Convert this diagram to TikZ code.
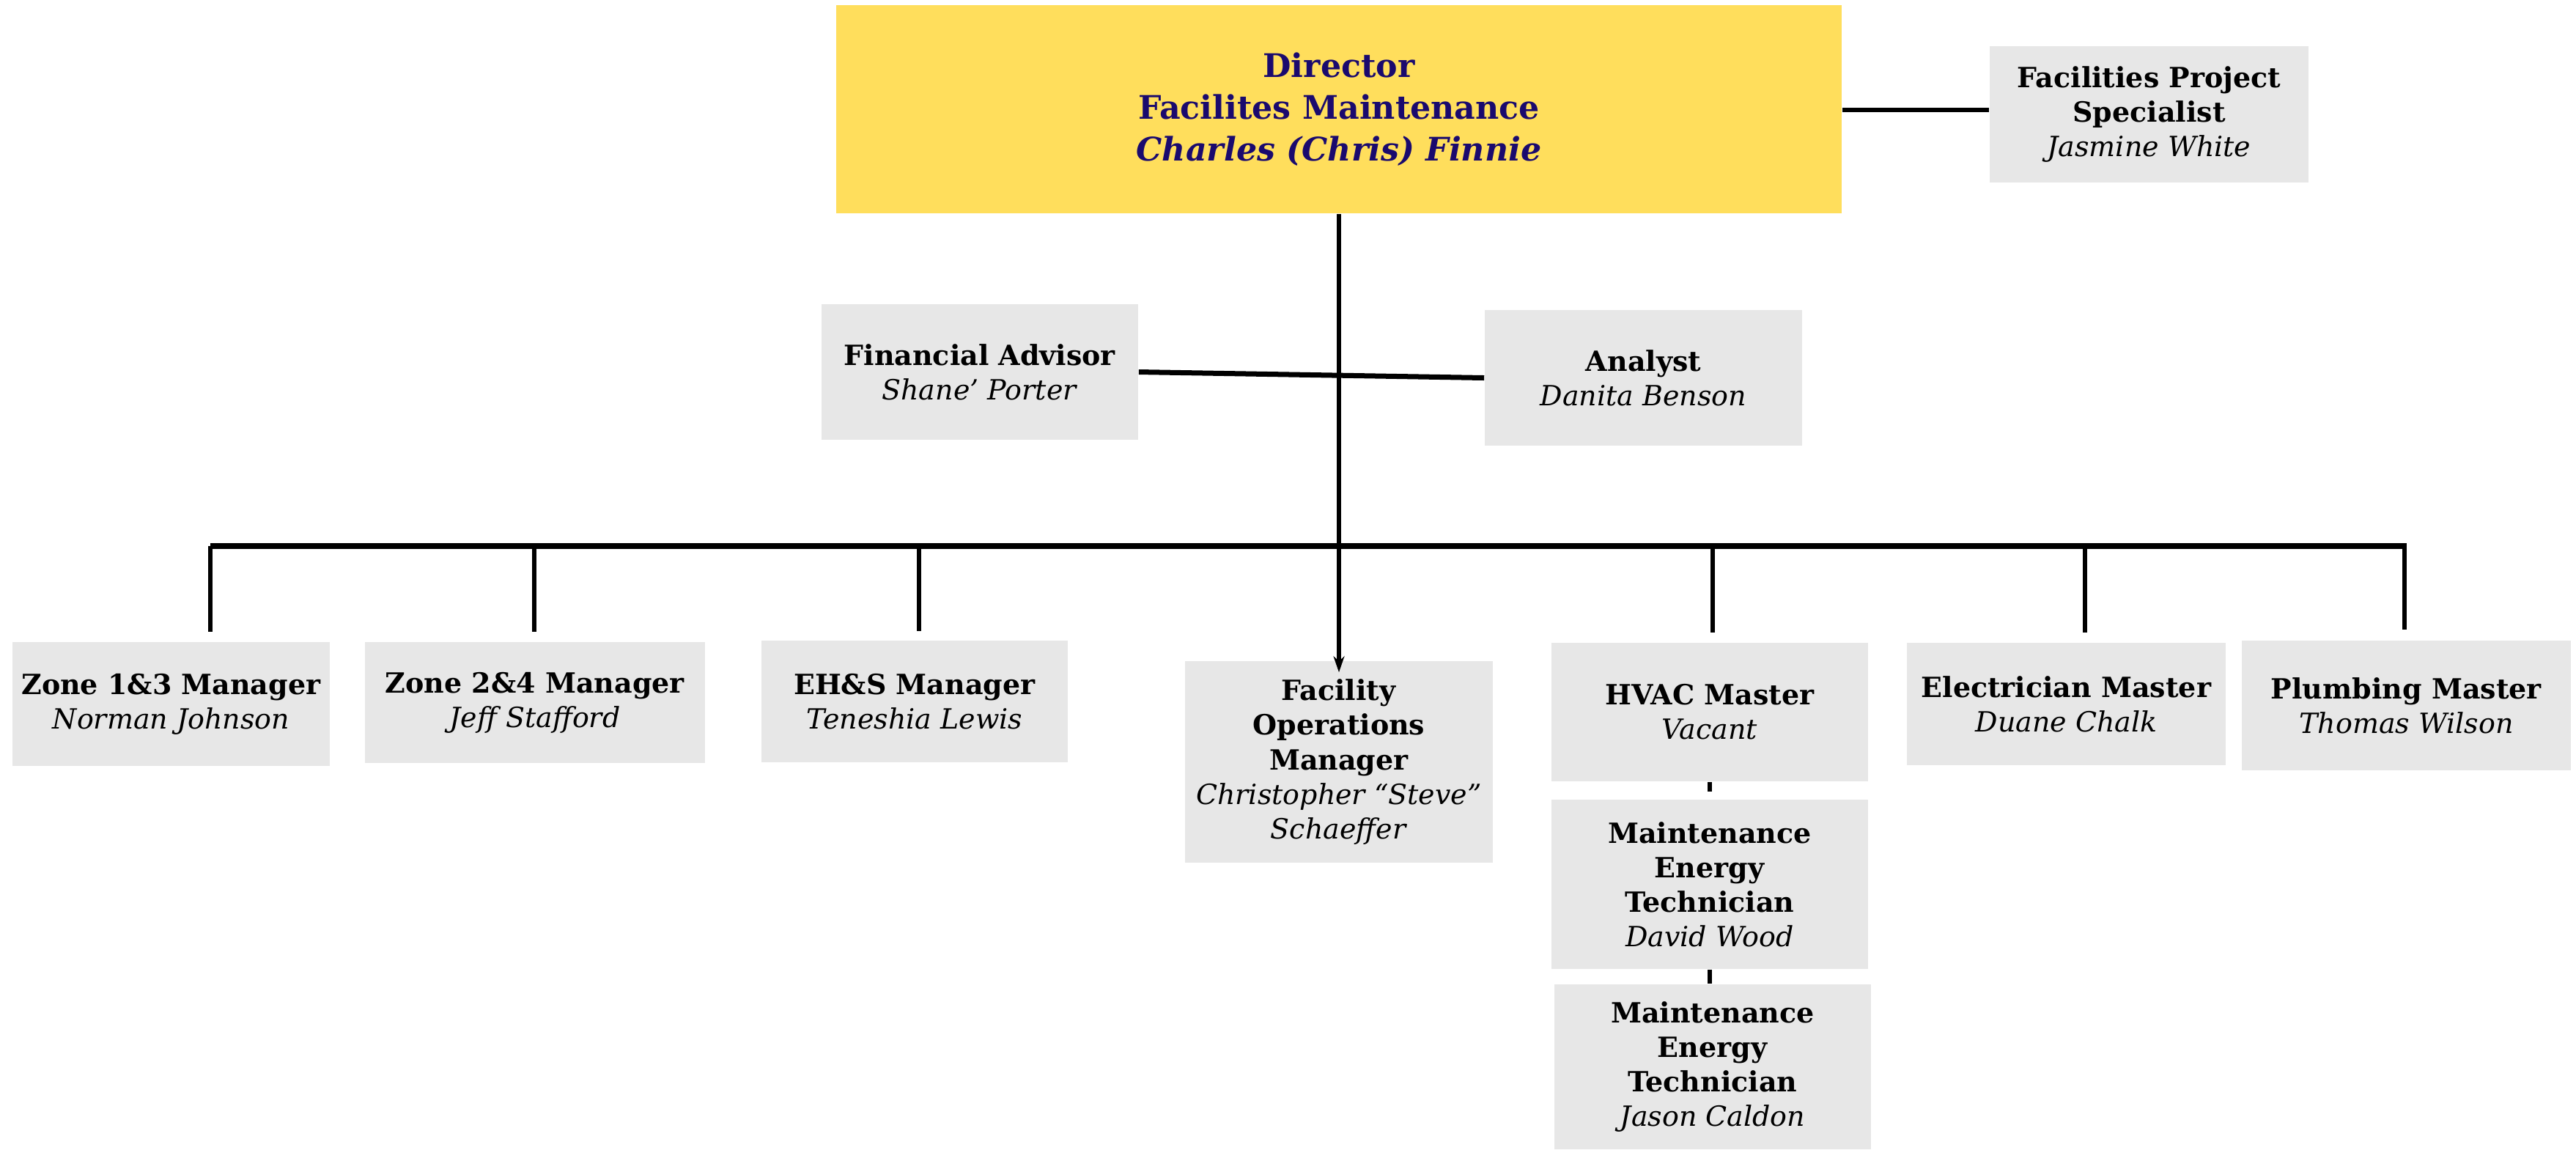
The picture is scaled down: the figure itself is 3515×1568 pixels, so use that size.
\documentclass[tikz,border=0pt]{standalone}
\usepackage{fontspec}
\setmainfont{DejaVu Serif}
\usetikzlibrary{arrows.meta}
\definecolor{boxgray}{RGB}{231,231,231}
\definecolor{diryellow}{RGB}{255,222,92}
\definecolor{navy}{RGB}{26,10,110}
\begin{document}
\begin{tikzpicture}[x=0.01cm,y=-0.01cm,
  card/.style={fill=boxgray,draw=none,align=center,inner sep=0pt,text=black,
    font=\fontsize{10.8}{13.4}\selectfont},
  topcard/.style={fill=diryellow,draw=none,align=center,inner sep=0pt,text=navy,
    font=\fontsize{12.6}{16.2}\selectfont\bfseries},
  link/.style={draw=black,line width=0.06cm},
  buslink/.style={draw=black,line width=0.08cm}]
\useasboundingbox (0,0) rectangle (3515,1568);
% nodes
\node[topcard,minimum width=13.72cm,minimum height=2.84cm] (dir) at (1827,149)
  {Director\\Facilites Maintenance\\\textit{Charles (Chris) Finnie}};
\node[card,minimum width=4.35cm,minimum height=1.86cm] (fps) at (2932.5,156)
  {\textbf{Facilities Project}\\\textbf{Specialist}\\\textit{Jasmine White}};
\node[card,minimum width=4.32cm,minimum height=1.85cm] (fa) at (1337,507.5)
  {\textbf{Financial Advisor}\\\textit{Shane’ Porter}};
\node[card,minimum width=4.33cm,minimum height=1.85cm] (an) at (2242.5,515.5)
  {\textbf{Analyst}\\\textit{Danita Benson}};
\node[card,minimum width=4.33cm,minimum height=1.69cm] (z13) at (233.5,960.5)
  {\textbf{Zone 1\&3 Manager}\\\textit{Norman Johnson}};
\node[card,minimum width=4.64cm,minimum height=1.65cm] (z24) at (730,958.5)
  {\textbf{Zone 2\&4 Manager}\\\textit{Jeff Stafford}};
\node[card,minimum width=4.18cm,minimum height=1.66cm] (ehs) at (1248,957)
  {\textbf{EH\&S Manager}\\\textit{Teneshia Lewis}};
\node[card,minimum width=4.20cm,minimum height=2.75cm] (fom) at (1827,1039.5)
  {\textbf{Facility}\\\textbf{Operations}\\\textbf{Manager}\\\textit{Christopher “Steve”}\\\textit{Schaeffer}};
\node[card,minimum width=4.32cm,minimum height=1.89cm] (hvac) at (2333,971.5)
  {\textbf{HVAC Master}\\\textit{Vacant}};
\node[card,minimum width=4.35cm,minimum height=1.67cm] (el) at (2819.5,960.5)
  {\textbf{Electrician Master}\\\textit{Duane Chalk}};
\node[card,minimum width=4.49cm,minimum height=1.77cm] (pl) at (3283.5,962.5)
  {\textbf{Plumbing Master}\\\textit{Thomas Wilson}};
\node[card,minimum width=4.32cm,minimum height=2.31cm] (m1) at (2333,1206.5)
  {\textbf{Maintenance}\\\textbf{Energy}\\\textbf{Technician}\\\textit{David Wood}};
\node[card,minimum width=4.32cm,minimum height=2.25cm] (m2) at (2337,1455.5)
  {\textbf{Maintenance}\\\textbf{Energy}\\\textbf{Technician}\\\textit{Jason Caldon}};
% bus coordinates
\coordinate (busL) at (287,745);
\coordinate (busR) at (3283,745);
\coordinate (d1) at (287,745);
\coordinate (d2) at (729,745);
\coordinate (d3) at (1254,745);
\coordinate (d4) at (2337,745);
\coordinate (d5) at (2845,745);
\coordinate (d6) at (3281,741);
% connectors
\draw[link] (dir.east |- 0,150) -- (fps.west |- 0,150);
\draw[link,line width=0.07cm] (fa.east) -- (an.west);
\draw[buslink] (busL) -- (busR);
\draw[link,-{Stealth[length=0.22cm,width=0.15cm]}] (dir.south) -- ([yshift=-0.16cm]fom.north);
\draw[link,shorten >=0.13cm] (d1) -- (d1 |- z13.north);
\draw[link,shorten >=0.13cm] (d2) -- (d2 |- z24.north);
\draw[link,shorten >=0.12cm] (d3) -- (d3 |- ehs.north);
\draw[link,shorten >=0.13cm] (d4) -- (d4 |- hvac.north);
\draw[link,shorten >=0.13cm] (d5) -- (d5 |- el.north);
\draw[link,shorten >=0.14cm] (d6) -- (d6 |- pl.north);
\draw[link,shorten >=0.1cm] (hvac.south) -- (m1.north);
\draw[link] (m1.south) -- (m1.south |- m2.north);
\end{tikzpicture}
\end{document}
